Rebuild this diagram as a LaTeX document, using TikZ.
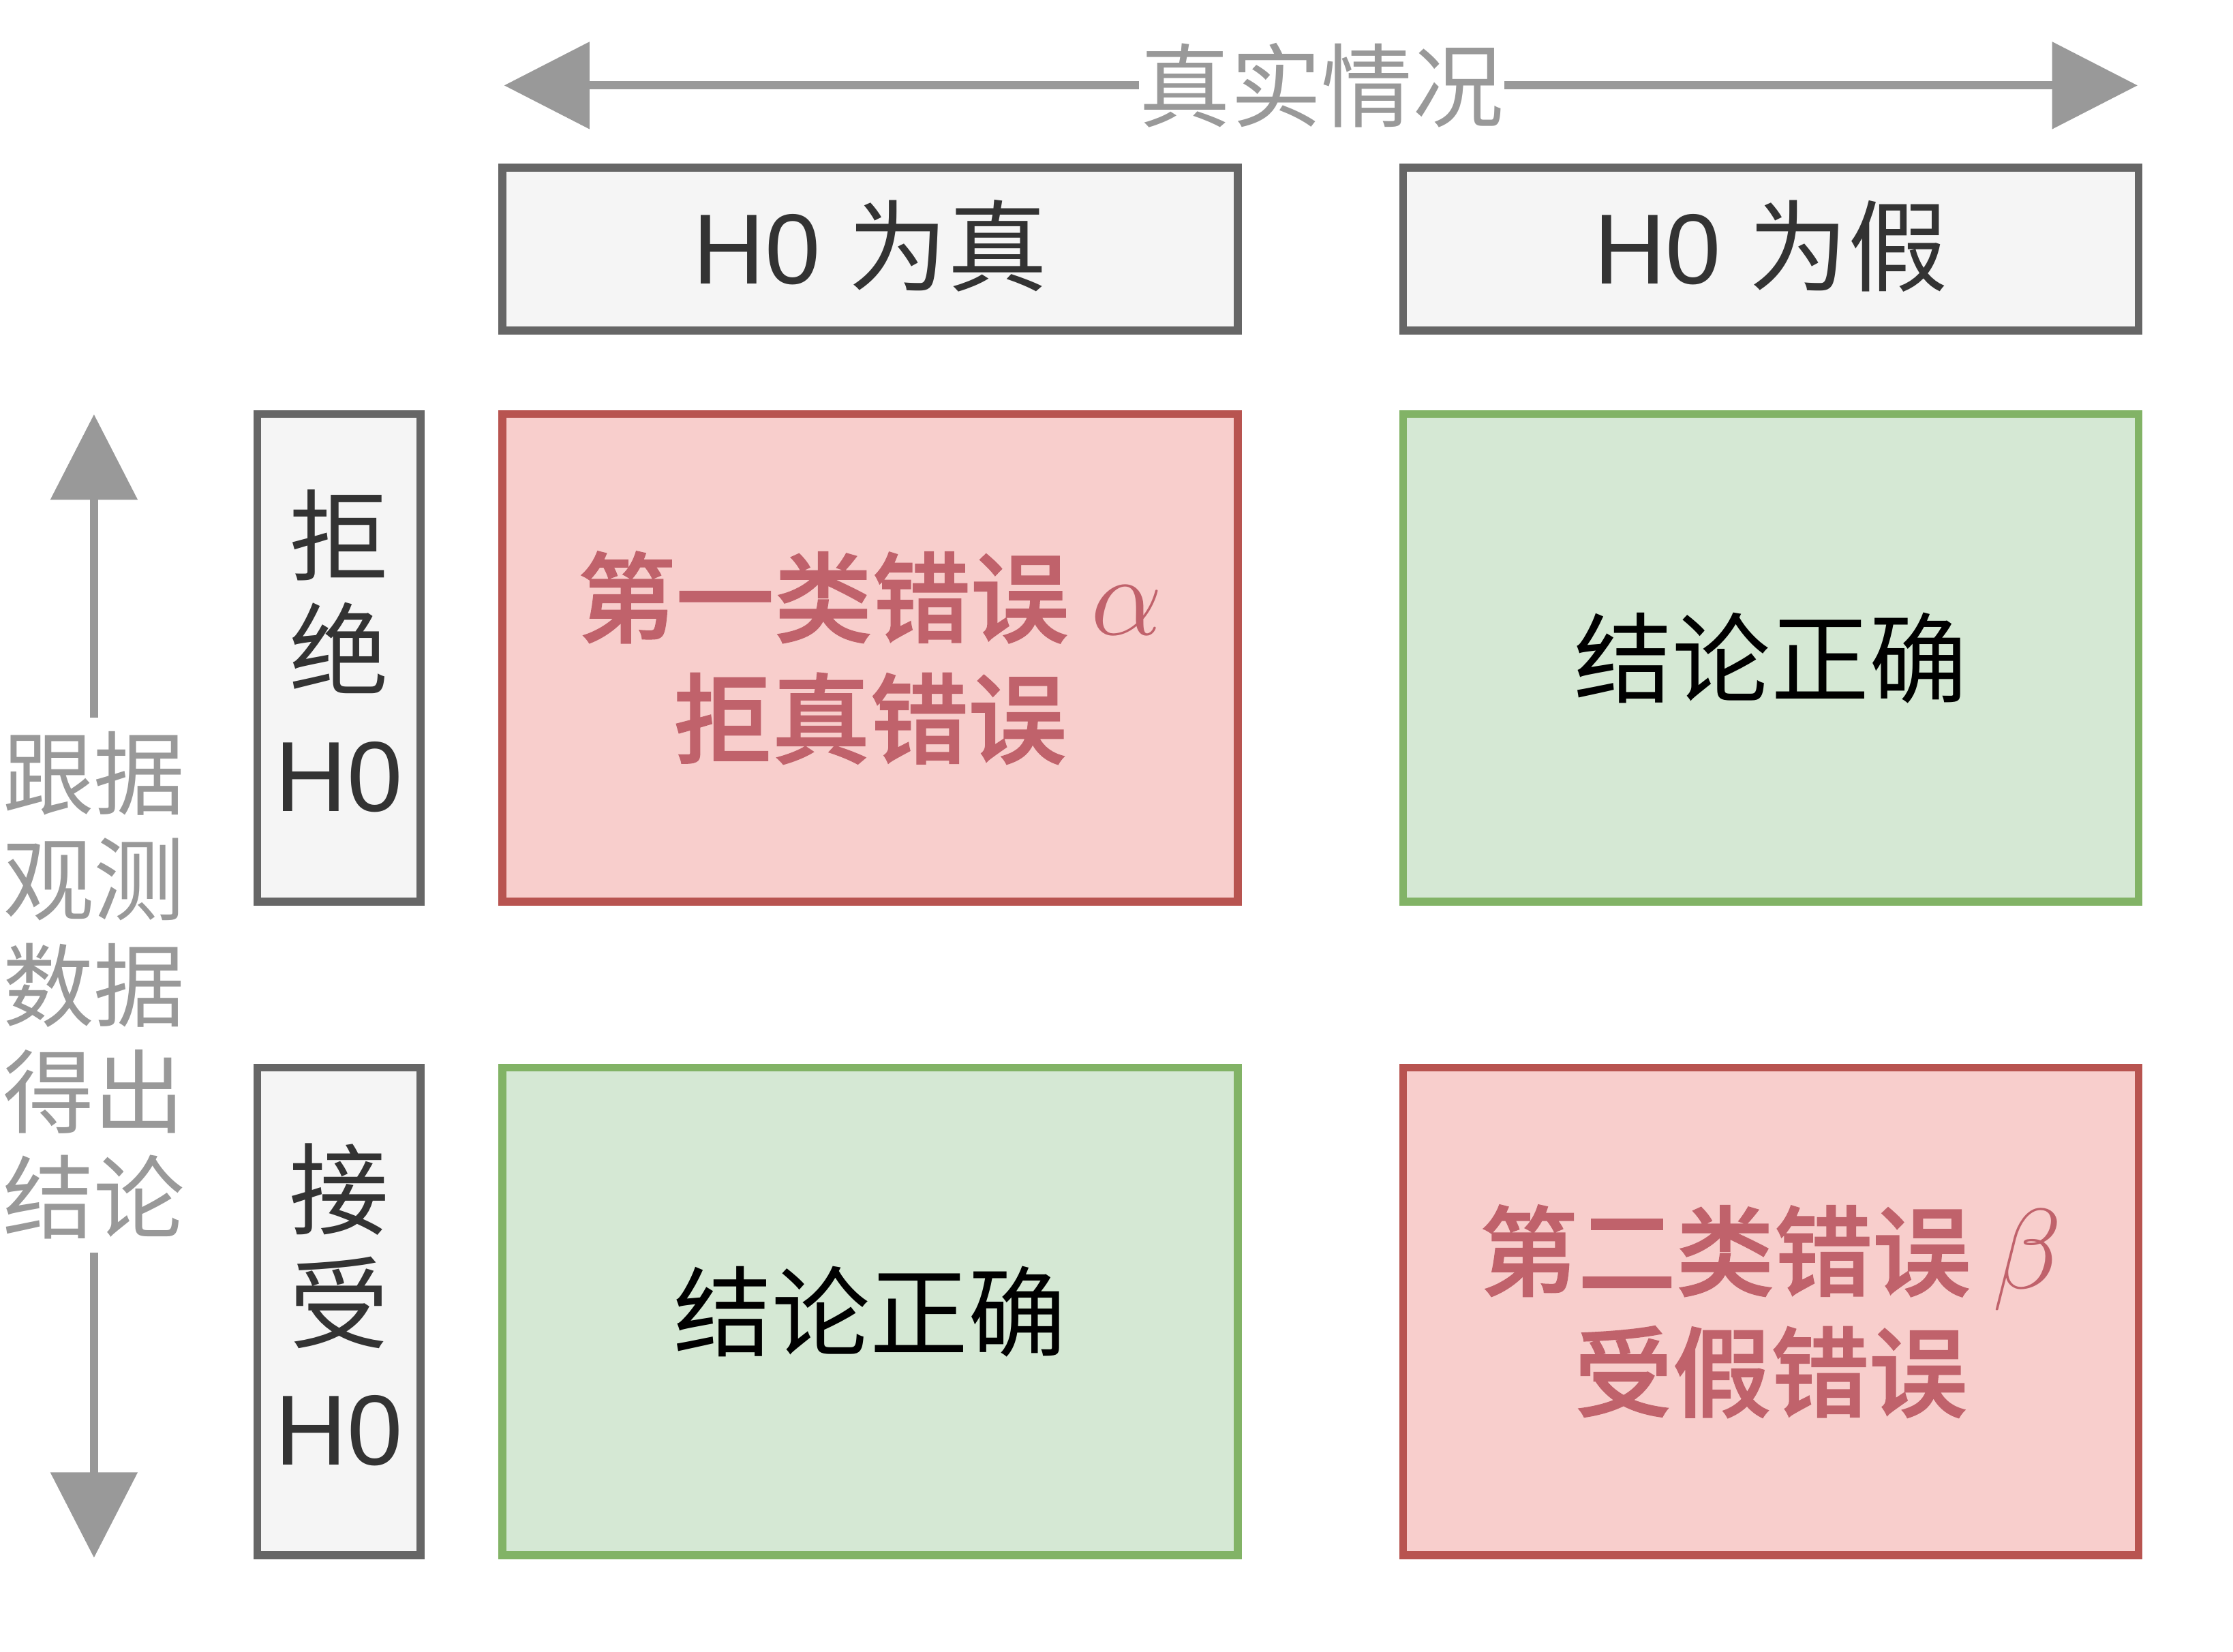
\RequirePackage{fix-cm}
\documentclass[tikz,border=0pt]{standalone}
\usepackage{fontspec}
\setmainfont{Liberation Sans}
\newfontfamily\cjk{Noto Sans CJK SC}
\IfFontExistsTF{Noto Sans CJK SC Medium}
  {\newfontfamily\cjkb{Noto Sans CJK SC Medium}[FakeBold=1.2]}
  {\newfontfamily\cjkb{Noto Sans CJK SC}[FakeBold=2.2]}
\usetikzlibrary{arrows.meta}
\definecolor{arrgray}{HTML}{999999}
\definecolor{hdrfill}{HTML}{F5F5F5}
\definecolor{hdrline}{HTML}{666666}
\definecolor{hdrtext}{HTML}{333333}
\definecolor{redfill}{HTML}{F8CECC}
\definecolor{redline}{HTML}{B85450}
\definecolor{redtext}{HTML}{C0626B}
\definecolor{greenfill}{HTML}{D5E8D4}
\definecolor{greenline}{HTML}{82B366}
\newcommand\greek[1]{{\fontsize{40pt}{42.5pt}\selectfont$#1$}}
\newcommand\lift{\rule[-5pt]{0pt}{5pt}}
\begin{document}
\begin{tikzpicture}[x=0.5pt,y=-0.5pt,
  hdr/.style={draw=hdrline, fill=hdrfill, line width=2.75pt, minimum width=258.25pt, minimum height=57.25pt, inner sep=0pt, text=hdrtext, font=\fontsize{35pt}{42pt}\selectfont},
  side/.style={draw=hdrline, fill=hdrfill, line width=2.75pt, minimum width=57.25pt, minimum height=171.25pt, inner sep=0pt, align=center, text=hdrtext, font=\fontsize{35pt}{40pt}\selectfont},
  cellred/.style={draw=redline, fill=redfill, line width=2.75pt, minimum width=258.25pt, minimum height=171.25pt, inner sep=0pt, align=center, text=redtext, font=\cjkb\fontsize{34.5pt}{42.5pt}\selectfont},
  cellgreen/.style={draw=greenline, fill=greenfill, line width=2.75pt, minimum width=258.25pt, minimum height=171.25pt, inner sep=0pt, align=center, text=black, font=\cjk\fontsize{34.5pt}{42pt}\selectfont},
  gtxt/.style={text=arrgray, inner sep=0pt, font=\cjk\fontsize{32pt}{37.25pt}\selectfont},
  arr/.style={draw=arrgray, line width=2.8pt, -{Triangle[length=30pt,width=30pt]}}
]
\useasboundingbox (0,0) rectangle (1568,1160);
% top axis
\node[gtxt] (truth) at (928,60) {真实情况};
\coordinate (tl) at (354,60);
\coordinate (tr) at (1501,60);
\draw[arr] (truth.west) -- (tl);
\draw[arr] (truth.east) -- (tr);
% left axis
\node[gtxt, align=center, minimum height=187.5pt] (obs) at (66,692) {跟据\\观测\\数据\\得出\\结论};
\coordinate (vt) at (66,291);
\coordinate (vb) at (66,1094);
\draw[arr] (obs.north) -- (vt);
\draw[arr] (obs.south) -- (vb);
% headers
\node[hdr] (hT) at (611,175) {H0 {\cjk 为真}\lift};
\node[hdr] (hF) at (1243.5,175) {H0 {\cjk 为假}\lift};
\node[side] (rR) at (238,462) {{\cjk 拒}\\{\cjk 绝}\\[3.5pt]H0\lift};
\node[side] (rA) at (238,921) {{\cjk 接}\\{\cjk 受}\\[3.5pt]H0\lift};
% cells
\node[cellred] (c11) at (611,462) {第一类错误 \greek{\alpha}\\拒真错误};
\node[cellgreen] (c12) at (1243.5,462) {结论正确};
\node[cellgreen] (c21) at (611,921) {结论正确};
\node[cellred] (c22) at (1243.5,921) {第二类错误 \greek{\beta}\\受假错误};
\end{tikzpicture}
\end{document}
